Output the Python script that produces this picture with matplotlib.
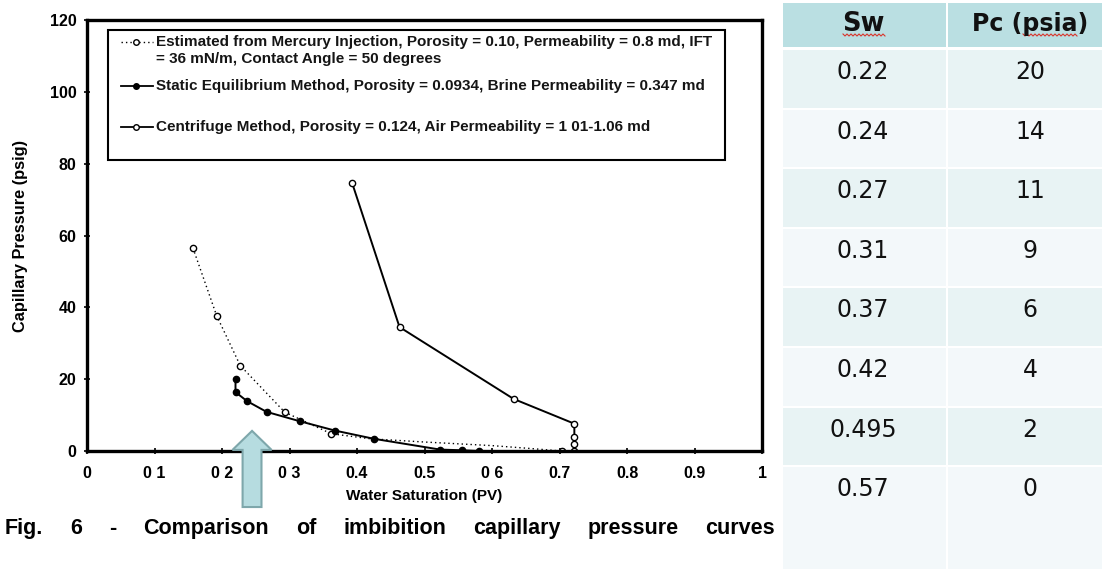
import numpy as np
import matplotlib.pyplot as plt
from matplotlib.patches import Rectangle, Polygon
from matplotlib.lines import Line2D

# ============================================================
# DATA
# ============================================================

# Estimated from mercury injection (dotted, open circles)
merc_sw = [0.157, 0.192, 0.227, 0.293, 0.362, 0.42, 0.50, 0.60, 0.65, 0.703]
merc_pc = [56.5, 37.7, 23.8, 10.8, 4.8, 3.4, 2.5, 1.5, 0.8, 0.0]
merc_marked = [0, 1, 2, 3, 4, 9]

# Static equilibrium method (solid, filled circles)
static_sw = [0.22, 0.22, 0.237, 0.266, 0.315, 0.367, 0.425, 0.523, 0.556, 0.58]
static_pc = [20.1, 16.4, 13.9, 10.9, 8.3, 5.7, 3.4, 0.4, 0.2, 0.0]

# Centrifuge method (solid, open circles)
centri_sw = [0.393, 0.463, 0.632, 0.722, 0.722, 0.722, 0.722]
centri_pc = [74.5, 34.5, 14.5, 7.6, 3.9, 1.9, 0.0]

x_ticks = [0, 0.1, 0.2, 0.3, 0.4, 0.5, 0.6, 0.7, 0.8, 0.9, 1.0]
x_tick_labels = ["0", "0 1", "0 2", "0 3", "0.4", "0.5", "0 6", "0.7", "0.8", "0.9", "1"]
y_ticks = [0, 20, 40, 60, 80, 100, 120]

legend_labels = [
    "Estimated from Mercury Injection, Porosity = 0.10, Permeability = 0.8 md, IFT",
    "= 36 mN/m, Contact Angle = 50 degrees",
    "Static Equilibrium Method, Porosity = 0.0934, Brine Permeability = 0.347 md",
    "Centrifuge Method, Porosity = 0.124, Air Permeability = 1 01-1.06 md",
]

caption_words = ["Fig.", "6", "-", "Comparison", "of", "imbibition", "capillary",
                 "pressure", "curves"]

table_header = ["Sw", "Pc (psia)"]
table_sw = ["0.22", "0.24", "0.27", "0.31", "0.37", "0.42", "0.495", "0.57"]
table_pc = ["20", "14", "11", "9", "6", "4", "2", "0"]

# arrow pointing at Sw ~ 0.245
arrow_x = 0.2445

# ============================================================
# FIGURE
# ============================================================

W, H = 1102, 569
fig = plt.figure(figsize=(W / 100, H / 100), dpi=100)
fig.patch.set_facecolor("white")

chart_font = "Liberation Sans"

ax = fig.add_axes([87 / W, (H - 451) / H, 675 / W, 431 / H])
ax.set_xlim(0, 1)
ax.set_ylim(0, 120)

ax.plot(merc_sw, merc_pc, linestyle=(0, (1, 2.2)), color="black", lw=1.0,
        marker="o", markevery=merc_marked, ms=4.5, mfc="white", mec="black", mew=1.0)
ax.plot(static_sw, static_pc, "-", color="black", lw=1.4,
        marker="o", ms=4.5, mfc="black", mec="black")
ax.plot(centri_sw, centri_pc, "-", color="black", lw=1.4,
        marker="o", ms=4.5, mfc="white", mec="black", mew=1.0)

for sp in ax.spines.values():
    sp.set_linewidth(2.4)

ax.set_xticks(x_ticks)
ax.set_xticklabels(x_tick_labels)
ax.set_yticks(y_ticks)
ax.tick_params(direction="inout", length=5, width=1.2, labelsize=11.5, pad=5)
ax.tick_params(axis="x", pad=8)
for lab in ax.get_xticklabels() + ax.get_yticklabels():
    lab.set_fontfamily(chart_font)
    lab.set_fontweight("bold")

ax.set_xlabel("Water Saturation (PV)", fontfamily=chart_font, fontweight="bold",
              fontsize=11, labelpad=6)
ax.set_ylabel("Capillary Pressure (psig)", fontfamily=chart_font, fontweight="bold",
              fontsize=11.8, labelpad=16)

# --- legend box drawn by hand ---
ax.add_patch(Rectangle((0.031, 0.675), 0.914, 0.302, transform=ax.transAxes,
                       fill=False, lw=1.5, ec="black", zorder=5))
marker_rows = [0.949, 0.847, 0.752]
text_rows = [0.949, 0.910, 0.847, 0.752]
styles = [dict(ls=(0, (1, 2.2)), lw=1.0, mfc="white"),
          dict(ls="-", lw=1.3, mfc="black"),
          dict(ls="-", lw=1.3, mfc="white")]
for y, st in zip(marker_rows, styles):
    ax.add_line(Line2D([0.050, 0.098], [y, y], transform=ax.transAxes, color="black",
                       ls=st["ls"], lw=st["lw"], zorder=6))
    ax.add_line(Line2D([0.073], [y], transform=ax.transAxes, marker="o", ms=4,
                       mfc=st["mfc"], mec="black", mew=1.0, ls="none", zorder=6))
for y, lab in zip(text_rows, legend_labels):
    ax.text(0.102, y, lab, transform=ax.transAxes, fontfamily=chart_font,
            fontsize=11, fontweight="bold", color="#151515",
            va="center", ha="left", zorder=6)

# --- overlay arrow (data x, extends below axes) ---
arrow_pts = [
    (arrow_x, 5.6),
    (arrow_x + 0.029, 0.3),
    (arrow_x + 0.014, 0.3),
    (arrow_x + 0.014, -15.6),
    (arrow_x - 0.014, -15.6),
    (arrow_x - 0.014, 0.3),
    (arrow_x - 0.029, 0.3),
]
ax.add_patch(Polygon(arrow_pts, closed=True, facecolor="#b6dce0", edgecolor="#7ea7ab",
                     lw=1.5, clip_on=False, zorder=10))

# --- caption, justified across the left panel ---
renderer = fig.canvas.get_renderer()
cap_texts = [fig.text(0, 0, w, fontfamily=chart_font, fontweight="bold", fontsize=15.5,
                      va="baseline", ha="left") for w in caption_words]
widths = [t.get_window_extent(renderer).width for t in cap_texts]
x_left, x_right, y_cap = 5, 775, H - 534
gap = (x_right - x_left - sum(widths)) / (len(widths) - 1)
xpos = x_left
for t, w in zip(cap_texts, widths):
    t.set_position((xpos / W, y_cap / H))
    xpos += w + gap

# ============================================================
# TABLE
# ============================================================

tx0 = 783
tax = fig.add_axes([tx0 / W, 0, (W - tx0) / W, 1])
tax.set_xlim(0, W - tx0)
tax.set_ylim(H, 0)
tax.axis("off")

col_split = 947 - tx0
col_edges = [(0, col_split - 1), (col_split + 1, W - tx0)]
col_centers = [863 - tx0, 1030 - tx0]
header_top, header_h = 3, 44
row_top0, row_pitch = 50, 59.6
row_colors = ["#e8f3f4", "#f3f8fa"]

for (c0, c1) in col_edges:
    tax.add_patch(Rectangle((c0, header_top), c1 - c0, header_h, fc="#badfe2", ec="none"))
header_sizes = [18.5, 17]
for j, name in enumerate(table_header):
    tax.text(col_centers[j], header_top + 21, name, ha="center", va="center",
             fontsize=header_sizes[j], fontweight="bold", color="#111111",
             fontfamily="DejaVu Sans")

n_rows = len(table_sw)
for i in range(n_rows):
    top = row_top0 + i * row_pitch
    h = row_pitch - 2 if i < n_rows - 1 else H - top
    for (c0, c1) in col_edges:
        tax.add_patch(Rectangle((c0, top), c1 - c0, h, fc=row_colors[i % 2], ec="none"))
    for j, val in enumerate([table_sw[i], table_pc[i]]):
        tax.text(col_centers[j], top + 22, val, ha="center", va="center",
                 fontsize=17, color="#111111", fontfamily="DejaVu Sans")

# red spell-check squiggles under "Sw" and "psia"
for (s0, s1) in [(843 - tx0, 886 - tx0), (1023 - tx0, 1077 - tx0)]:
    xs = np.arange(s0, s1 + 0.1, 2.0)
    ys = 35 + np.where(np.arange(len(xs)) % 2 == 0, -1.0, 1.0)
    tax.plot(xs, ys, color="#d9342b", lw=0.8)

fig.savefig("out.png", dpi=100, facecolor="white")
